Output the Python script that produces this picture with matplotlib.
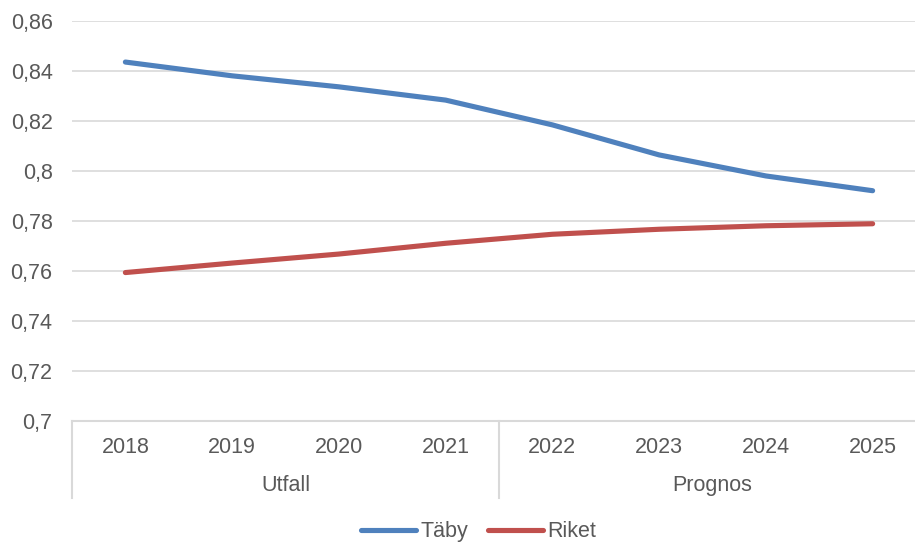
import matplotlib
matplotlib.use("Agg")
import matplotlib.pyplot as plt
from matplotlib.lines import Line2D

years = ["2018", "2019", "2020", "2021", "2022", "2023", "2024", "2025"]
groups = ["Utfall", "Prognos"]
group_sizes = [4, 4]
taby = [0.8434, 0.8379, 0.8335, 0.8282, 0.8183, 0.8063, 0.7979, 0.7920]
riket = [0.7593, 0.7631, 0.7667, 0.7710, 0.7746, 0.7766, 0.7780, 0.7788]
yticks = [0.70, 0.72, 0.74, 0.76, 0.78, 0.80, 0.82, 0.84, 0.86]
ytick_labels = ["0,7", "0,72", "0,74", "0,76", "0,78", "0,8", "0,82", "0,84", "0,86"]

TXT = "#595959"
GRID = "#D9D9D9"
BLUE = "#4F81BD"
RED = "#C0504D"
FS = 15.5
LW = 3.7

plt.rcParams['font.family'] = ['Liberation Sans', 'DejaVu Sans']

fig = plt.figure(figsize=(9.15, 5.42), dpi=100)
ax = fig.add_axes([72/915, 1-421/542, 854/915, 400.5/542])

x = list(range(len(years)))
ax.plot(x, taby, color=BLUE, lw=LW, solid_capstyle='round', solid_joinstyle='round', zorder=3)
ax.plot(x, riket, color=RED, lw=LW, solid_capstyle='round', solid_joinstyle='round', zorder=3)

ax.set_xlim(-0.5, len(years) - 0.5)
ax.set_ylim(0.70, 0.86)
ax.set_yticks(yticks)
ax.set_yticklabels(ytick_labels, fontsize=FS, color=TXT)
ax.tick_params(axis='y', length=0, pad=14)
ax.set_xticks([])
for yv in yticks[1:]:
    ax.axhline(yv, color=GRID, lw=1.2, zorder=1)
for s in ['top', 'right', 'left']:
    ax.spines[s].set_visible(False)
ax.spines['bottom'].set_color(GRID)
ax.spines['bottom'].set_linewidth(1.5)

tr = ax.get_xaxis_transform()
for i, yr in enumerate(years):
    ax.text(i, -0.065, yr, transform=tr, ha='center', va='center', fontsize=FS, color=TXT)
start = -0.5
bounds = [start]
for g, n in zip(groups, group_sizes):
    ax.text(start + n/2, -0.16, g, transform=tr, ha='center', va='center', fontsize=FS, color=TXT)
    start += n
    bounds.append(start)
for b in bounds:
    ax.plot([b, b], [0, -0.192], transform=tr, color=GRID, lw=1.5, clip_on=False)

handles = [Line2D([], [], color=BLUE, lw=LW, solid_capstyle='round'),
           Line2D([], [], color=RED, lw=LW, solid_capstyle='round')]
leg = fig.legend(handles, ["Täby", "Riket"], loc='center', bbox_to_anchor=(0.523, 0.019),
                 ncol=2, frameon=False, fontsize=FS, handlelength=2.55, handletextpad=0.2,
                 columnspacing=0.9, borderpad=0, borderaxespad=0)
for t in leg.get_texts():
    t.set_color(TXT)

fig.savefig("out.png", dpi=100, facecolor='white')
